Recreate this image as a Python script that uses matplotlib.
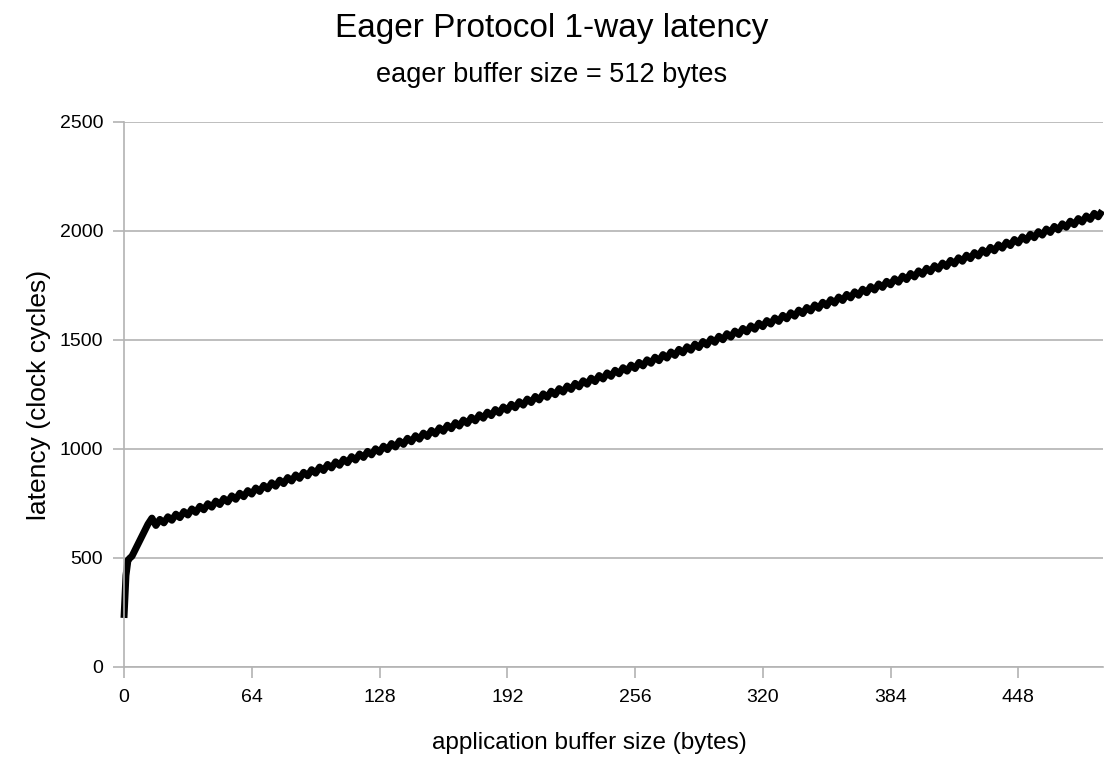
import matplotlib.pyplot as plt

plt.rcParams['font.family'] = ['Liberation Sans', 'DejaVu Sans']

# message sizes 0..14 bytes, then every 2 bytes up to 490
sizes_start = [0, 1, 2, 3, 4, 6, 8, 10, 12, 14]
latency_start = [225, 420, 490, 500, 508, 545, 583, 620, 655, 683]

sizes_main = list(range(16, 492, 2))
latency_main = [
    649, 677, 661, 689, 673, 701, 685, 713, 697, 725,
    709, 737, 721, 749, 733, 761, 745, 773, 757, 785,
    769, 797, 781, 809, 793, 821, 805, 833, 817, 845,
    829, 857, 841, 869, 853, 881, 865, 893, 877, 905,
    889, 917, 901, 929, 913, 941, 925, 953, 937, 965,
    949, 977, 961, 989, 973, 1001, 985, 1013, 997, 1025,
    1009, 1037, 1021, 1049, 1033, 1061, 1045, 1073, 1057, 1085,
    1069, 1097, 1081, 1109, 1093, 1121, 1105, 1133, 1117, 1145,
    1129, 1157, 1141, 1169, 1153, 1181, 1165, 1193, 1177, 1205,
    1189, 1217, 1201, 1229, 1213, 1241, 1225, 1253, 1237, 1265,
    1249, 1277, 1261, 1289, 1273, 1301, 1285, 1313, 1297, 1325,
    1309, 1337, 1321, 1349, 1333, 1361, 1345, 1373, 1357, 1385,
    1369, 1397, 1381, 1409, 1393, 1421, 1405, 1433, 1417, 1445,
    1429, 1457, 1441, 1469, 1453, 1481, 1465, 1493, 1477, 1505,
    1489, 1517, 1501, 1529, 1513, 1541, 1525, 1553, 1537, 1565,
    1549, 1577, 1561, 1589, 1573, 1601, 1585, 1613, 1597, 1625,
    1609, 1637, 1621, 1649, 1633, 1661, 1645, 1673, 1657, 1685,
    1669, 1697, 1681, 1709, 1693, 1721, 1705, 1733, 1717, 1745,
    1729, 1757, 1741, 1769, 1753, 1781, 1765, 1793, 1777, 1805,
    1789, 1817, 1801, 1829, 1813, 1841, 1825, 1853, 1837, 1865,
    1849, 1877, 1861, 1889, 1873, 1901, 1885, 1913, 1897, 1925,
    1909, 1937, 1921, 1949, 1933, 1961, 1945, 1973, 1957, 1985,
    1969, 1997, 1981, 2009, 1993, 2021, 2005, 2033, 2017, 2045,
    2029, 2057, 2041, 2069, 2053, 2081, 2065, 2093,
]

sizes = sizes_start + sizes_main
latency = latency_start + latency_main

x_ticks = [0, 64, 128, 192, 256, 320, 384, 448]
y_ticks = [0, 500, 1000, 1500, 2000, 2500]

fig = plt.figure(figsize=(11.04, 7.6), dpi=100)
ax = fig.add_axes([0.1123, 0.1224, 0.887, 0.7171])

ax.plot(sizes, latency, color='black', linewidth=5,
        solid_joinstyle='round', solid_capstyle='butt', clip_on=False)

ax.set_xlim(0, 490.5)
ax.set_ylim(0, 2500)
ax.set_xticks(x_ticks)
ax.set_yticks(y_ticks)
ax.tick_params(axis='both', colors='#b3b3b3', labelcolor='black', labelsize=14)
ax.tick_params(axis='x', length=8, width=1.2, pad=8)
ax.tick_params(axis='y', length=8, width=1.2, pad=7)

ax.grid(axis='y', color='#b3b3b3', linewidth=1.2)
ax.set_axisbelow(True)
for side in ['top', 'right']:
    ax.spines[side].set_visible(False)
for side in ['left', 'bottom']:
    ax.spines[side].set_color('#b3b3b3')
    ax.spines[side].set_linewidth(1.2)

ax.set_xlabel('application buffer size (bytes)', fontsize=17.5)
ax.xaxis.set_label_coords(0.475, -0.12)
ax.set_ylabel('latency (clock cycles)', fontsize=19, labelpad=6)

fig.text(0.5, 0.963, 'Eager Protocol 1-way latency', ha='center', va='center', fontsize=24)
fig.text(0.5, 0.901, 'eager buffer size = 512 bytes', ha='center', va='center', fontsize=19.5)

fig.savefig('out.png', dpi=100)
